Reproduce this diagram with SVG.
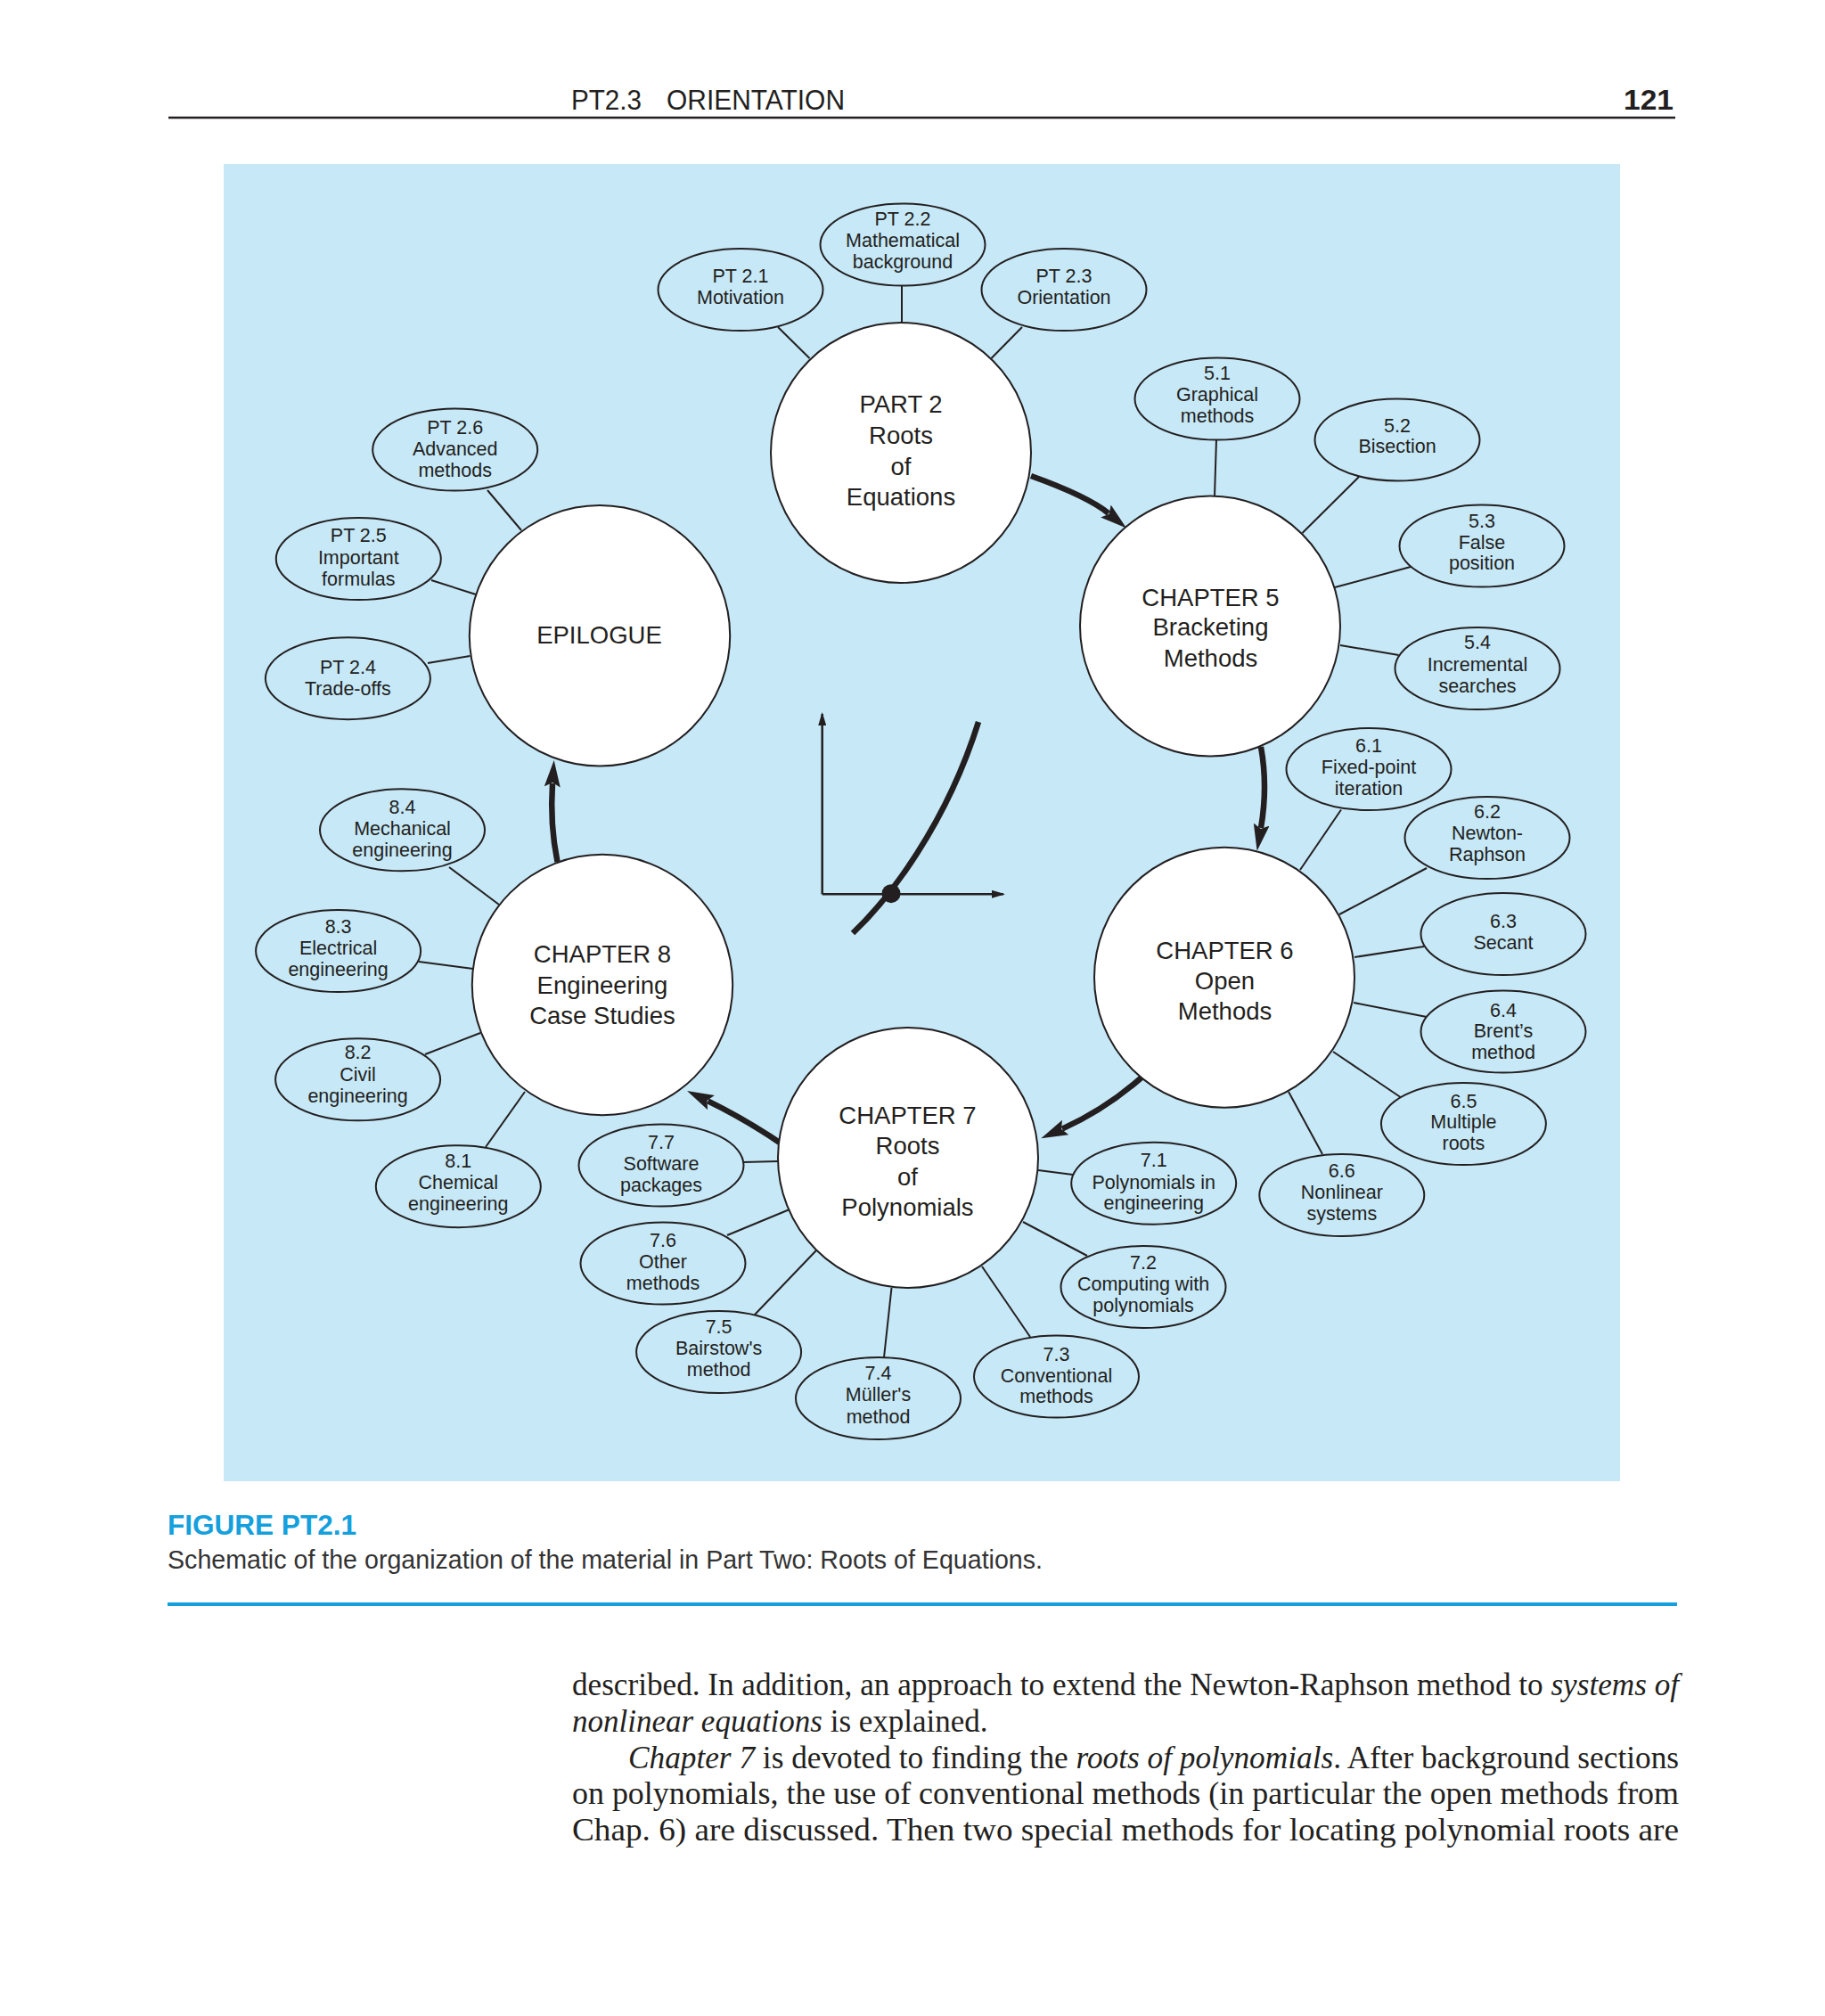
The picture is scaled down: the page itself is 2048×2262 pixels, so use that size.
<svg xmlns="http://www.w3.org/2000/svg" width="2048" height="2262" viewBox="0 0 2048 2262">
<style>
.sans{font-family:"Liberation Sans",Arial,sans-serif;fill:#231f20}
.big{font-size:27.5px;text-anchor:middle}
.sm{font-size:21.5px;text-anchor:middle}
.circ{fill:#ffffff;stroke:#231f20;stroke-width:2}
.ell{fill:#c6e8f7;stroke:#231f20;stroke-width:2}
.con{stroke:#231f20;stroke-width:2;fill:none}
.flow{stroke:#231f20;stroke-width:6.5;fill:none;marker-end:url(#head)}
.ax{stroke:#231f20;stroke-width:2.5;fill:none;marker-end:url(#axhead)}
.body{font-family:"Liberation Serif","Times New Roman",serif;font-size:35px;fill:#231f20}
</style>
<defs>
<marker id="head" markerUnits="userSpaceOnUse" markerWidth="30" markerHeight="18" viewBox="0 0 30 18" refX="4" refY="9" orient="auto">
<path d="M0,0 L30,9 L0,18 L5,9 z" fill="#231f20"/>
</marker>
<marker id="axhead" markerUnits="userSpaceOnUse" markerWidth="15" markerHeight="9" viewBox="0 0 15 9" refX="13" refY="4.5" orient="auto">
<path d="M0,0 L15,4.5 L0,9 z" fill="#231f20"/>
</marker>
</defs>
<rect width="2048" height="2262" fill="#ffffff"/>

<!-- header -->
<text class="sans" x="641" y="123" font-size="32" textLength="79" lengthAdjust="spacingAndGlyphs">PT2.3</text>
<text class="sans" x="748" y="123" font-size="32" textLength="200" lengthAdjust="spacingAndGlyphs">ORIENTATION</text>
<text class="sans" x="1822" y="123" font-size="32" font-weight="bold" textLength="56" lengthAdjust="spacingAndGlyphs">121</text>
<line x1="189" y1="132" x2="1880" y2="132" stroke="#231f20" stroke-width="2.5"/>

<!-- panel -->
<rect x="251" y="184" width="1567" height="1478" fill="#c6e8f7"/>

<!-- connectors -->
<g id="connectors">
<line class="con" x1="873" y1="367" x2="908.5" y2="402"/>
<line class="con" x1="1012" y1="321" x2="1012" y2="362"/>
<line class="con" x1="1147" y1="367" x2="1112.5" y2="402"/>
<line class="con" x1="1365" y1="493" x2="1363" y2="557"/>
<line class="con" x1="1525" y1="535" x2="1461.5" y2="598"/>
<line class="con" x1="1583" y1="636" x2="1498" y2="659"/>
<line class="con" x1="1504" y1="724" x2="1569.5" y2="735"/>
<line class="con" x1="1505" y1="908.5" x2="1459" y2="976"/>
<line class="con" x1="1601" y1="974" x2="1503" y2="1026"/>
<line class="con" x1="1598" y1="1062" x2="1520" y2="1074"/>
<line class="con" x1="1601" y1="1141" x2="1519" y2="1125"/>
<line class="con" x1="1571.5" y1="1231" x2="1496" y2="1180"/>
<line class="con" x1="1484" y1="1295" x2="1446" y2="1225"/>
<line class="con" x1="1165" y1="1313" x2="1204" y2="1318"/>
<line class="con" x1="1148" y1="1371" x2="1220" y2="1409"/>
<line class="con" x1="1102" y1="1421" x2="1156" y2="1500"/>
<line class="con" x1="1000.5" y1="1445" x2="992" y2="1523"/>
<line class="con" x1="847" y1="1475" x2="916" y2="1403"/>
<line class="con" x1="816" y1="1386" x2="886" y2="1357"/>
<line class="con" x1="834" y1="1304" x2="873" y2="1303"/>
<line class="con" x1="504" y1="973" x2="560" y2="1015"/>
<line class="con" x1="470" y1="1079" x2="531" y2="1087"/>
<line class="con" x1="477" y1="1183" x2="539" y2="1159"/>
<line class="con" x1="545" y1="1287" x2="589" y2="1225"/>
<line class="con" x1="547" y1="550" x2="585" y2="595"/>
<line class="con" x1="484" y1="651" x2="534" y2="667"/>
<line class="con" x1="480" y1="744" x2="527.5" y2="736"/>
<path class="flow" d="M1157,534 Q1221,557 1244,576"/>
<path class="flow" d="M1415,838 Q1423,882 1415,929"/>
<path class="flow" d="M1281,1209 Q1240,1245 1192,1266.6"/>
<path class="flow" d="M874.5,1281.7 Q835,1255 794.4,1235.3"/>
<path class="flow" d="M625.5,967 Q617,925 620,879"/>
</g>

<!-- center graph -->
<g id="graph">
<path class="ax" d="M922.7,1003.3 L922.7,801"/>
<path class="ax" d="M922.7,1003.3 L1126,1003.3"/>
<path d="M957,1047 C998,1008 1062,925 1098,810" stroke="#231f20" stroke-width="6.5" fill="none"/>
<circle cx="1000" cy="1002.7" r="10.5" fill="#231f20"/>
</g>

<!-- big nodes -->
<g id="part2">
<circle class="circ" cx="1011" cy="508" r="146"/>
<text class="sans big" x="1011" y="463">PART 2</text>
<text class="sans big" x="1011" y="498">Roots</text>
<text class="sans big" x="1011" y="533">of</text>
<text class="sans big" x="1011" y="567">Equations</text>
</g>
<g id="ch5">
<circle class="circ" cx="1358" cy="702.5" r="146"/>
<text class="sans big" x="1358.5" y="680">CHAPTER 5</text>
<text class="sans big" x="1358.5" y="713">Bracketing</text>
<text class="sans big" x="1358.5" y="748">Methods</text>
</g>
<g id="ch6">
<circle class="circ" cx="1374" cy="1096.7" r="146"/>
<text class="sans big" x="1374.5" y="1076">CHAPTER 6</text>
<text class="sans big" x="1374.5" y="1110">Open</text>
<text class="sans big" x="1374.5" y="1144">Methods</text>
</g>
<g id="ch7">
<circle class="circ" cx="1019" cy="1299" r="146"/>
<text class="sans big" x="1018.5" y="1261">CHAPTER 7</text>
<text class="sans big" x="1018.5" y="1295">Roots</text>
<text class="sans big" x="1018.5" y="1330">of</text>
<text class="sans big" x="1018.5" y="1364">Polynomials</text>
</g>
<g id="ch8">
<circle class="circ" cx="676" cy="1105" r="146.2"/>
<text class="sans big" x="676" y="1080">CHAPTER 8</text>
<text class="sans big" x="676" y="1115">Engineering</text>
<text class="sans big" x="676" y="1148.5">Case Studies</text>
</g>
<g id="epilogue">
<circle class="circ" cx="673" cy="713.3" r="146.2"/>
<text class="sans big" x="672.5" y="721.7">EPILOGUE</text>
</g>

<!-- small nodes -->
<g id="pt21"><ellipse class="ell" cx="831" cy="325" rx="92.5" ry="46"/>
<text class="sans sm" x="831" y="317">PT 2.1</text><text class="sans sm" x="831" y="341">Motivation</text></g>
<g id="pt22"><ellipse class="ell" cx="1013" cy="274.5" rx="92.5" ry="46"/>
<text class="sans sm" x="1013" y="253.3">PT 2.2</text><text class="sans sm" x="1013" y="277.3">Mathematical</text><text class="sans sm" x="1013" y="300.7">background</text></g>
<g id="pt23"><ellipse class="ell" cx="1194" cy="325" rx="92.5" ry="46"/>
<text class="sans sm" x="1194" y="317">PT 2.3</text><text class="sans sm" x="1194" y="341">Orientation</text></g>

<g id="s51"><ellipse class="ell" cx="1366" cy="447.5" rx="92.5" ry="46"/>
<text class="sans sm" x="1366" y="426">5.1</text><text class="sans sm" x="1366" y="450">Graphical</text><text class="sans sm" x="1366" y="474">methods</text></g>
<g id="s52"><ellipse class="ell" cx="1568" cy="493.5" rx="92.5" ry="46"/>
<text class="sans sm" x="1568" y="485">5.2</text><text class="sans sm" x="1568" y="508">Bisection</text></g>
<g id="s53"><ellipse class="ell" cx="1663" cy="612.5" rx="92.5" ry="46"/>
<text class="sans sm" x="1663" y="591.7">5.3</text><text class="sans sm" x="1663" y="616">False</text><text class="sans sm" x="1663" y="639">position</text></g>
<g id="s54"><ellipse class="ell" cx="1658" cy="750" rx="92.5" ry="46"/>
<text class="sans sm" x="1658" y="728">5.4</text><text class="sans sm" x="1658" y="753">Incremental</text><text class="sans sm" x="1658" y="777">searches</text></g>

<g id="s61"><ellipse class="ell" cx="1536" cy="863" rx="92.5" ry="46"/>
<text class="sans sm" x="1536" y="844">6.1</text><text class="sans sm" x="1536" y="868">Fixed-point</text><text class="sans sm" x="1536" y="892">iteration</text></g>
<g id="s62"><ellipse class="ell" cx="1669" cy="940" rx="92.5" ry="46"/>
<text class="sans sm" x="1669" y="918.4">6.2</text><text class="sans sm" x="1669" y="942">Newton-</text><text class="sans sm" x="1669" y="966">Raphson</text></g>
<g id="s63"><ellipse class="ell" cx="1687" cy="1048" rx="92.5" ry="46"/>
<text class="sans sm" x="1687" y="1041">6.3</text><text class="sans sm" x="1687" y="1065">Secant</text></g>
<g id="s64"><ellipse class="ell" cx="1687" cy="1157.6" rx="92.5" ry="46"/>
<text class="sans sm" x="1687" y="1140.6">6.4</text><text class="sans sm" x="1687" y="1164.3">Brent’s</text><text class="sans sm" x="1687" y="1188">method</text></g>
<g id="s65"><ellipse class="ell" cx="1642.4" cy="1261" rx="92.5" ry="46"/>
<text class="sans sm" x="1642.4" y="1242.6">6.5</text><text class="sans sm" x="1642.4" y="1266.4">Multiple</text><text class="sans sm" x="1642.4" y="1290">roots</text></g>
<g id="s66"><ellipse class="ell" cx="1505.8" cy="1341" rx="92.5" ry="46"/>
<text class="sans sm" x="1505.8" y="1321">6.6</text><text class="sans sm" x="1505.8" y="1345.4">Nonlinear</text><text class="sans sm" x="1505.8" y="1369">systems</text></g>

<g id="s71"><ellipse class="ell" cx="1294.7" cy="1327.7" rx="92.5" ry="46"/>
<text class="sans sm" x="1294.7" y="1309">7.1</text><text class="sans sm" x="1294.7" y="1333.6">Polynomials in</text><text class="sans sm" x="1294.7" y="1357.3">engineering</text></g>
<g id="s72"><ellipse class="ell" cx="1283" cy="1444" rx="92.5" ry="46"/>
<text class="sans sm" x="1283" y="1424">7.2</text><text class="sans sm" x="1283" y="1448.3">Computing with</text><text class="sans sm" x="1283" y="1471.7">polynomials</text></g>
<g id="s73"><ellipse class="ell" cx="1185.5" cy="1544.5" rx="92.5" ry="46"/>
<text class="sans sm" x="1185.5" y="1526.7">7.3</text><text class="sans sm" x="1185.5" y="1550.7">Conventional</text><text class="sans sm" x="1185.5" y="1574">methods</text></g>
<g id="s74"><ellipse class="ell" cx="985.5" cy="1569" rx="92.5" ry="46"/>
<text class="sans sm" x="985.5" y="1548.3">7.4</text><text class="sans sm" x="985.5" y="1572.3">Müller's</text><text class="sans sm" x="985.5" y="1596.7">method</text></g>
<g id="s75"><ellipse class="ell" cx="806.6" cy="1517" rx="92.5" ry="46"/>
<text class="sans sm" x="806.6" y="1496">7.5</text><text class="sans sm" x="806.6" y="1520">Bairstow's</text><text class="sans sm" x="806.6" y="1544">method</text></g>
<g id="s76"><ellipse class="ell" cx="744" cy="1417.5" rx="92.5" ry="46"/>
<text class="sans sm" x="744" y="1399.3">7.6</text><text class="sans sm" x="744" y="1423.3">Other</text><text class="sans sm" x="744" y="1446.7">methods</text></g>
<g id="s77"><ellipse class="ell" cx="742" cy="1307.5" rx="92.5" ry="46"/>
<text class="sans sm" x="742" y="1289.3">7.7</text><text class="sans sm" x="742" y="1312.7">Software</text><text class="sans sm" x="742" y="1336.7">packages</text></g>

<g id="s84"><ellipse class="ell" cx="451.5" cy="931.3" rx="92.5" ry="46"/>
<text class="sans sm" x="451.5" y="913.3">8.4</text><text class="sans sm" x="451.5" y="937.3">Mechanical</text><text class="sans sm" x="451.5" y="961">engineering</text></g>
<g id="s83"><ellipse class="ell" cx="379.6" cy="1067" rx="92.5" ry="46"/>
<text class="sans sm" x="379.6" y="1046.7">8.3</text><text class="sans sm" x="379.6" y="1070.7">Electrical</text><text class="sans sm" x="379.6" y="1095">engineering</text></g>
<g id="s82"><ellipse class="ell" cx="401.6" cy="1211.3" rx="92.5" ry="46"/>
<text class="sans sm" x="401.6" y="1188.3">8.2</text><text class="sans sm" x="401.6" y="1212.7">Civil</text><text class="sans sm" x="401.6" y="1236.7">engineering</text></g>
<g id="s81"><ellipse class="ell" cx="514.3" cy="1331.2" rx="92.5" ry="46"/>
<text class="sans sm" x="514.3" y="1310">8.1</text><text class="sans sm" x="514.3" y="1334">Chemical</text><text class="sans sm" x="514.3" y="1357.7">engineering</text></g>

<g id="pt26"><ellipse class="ell" cx="510.7" cy="504.5" rx="92.5" ry="46"/>
<text class="sans sm" x="510.7" y="486.7">PT 2.6</text><text class="sans sm" x="510.7" y="510.7">Advanced</text><text class="sans sm" x="510.7" y="535">methods</text></g>
<g id="pt25"><ellipse class="ell" cx="402.3" cy="627" rx="92.5" ry="46"/>
<text class="sans sm" x="402.3" y="608.3">PT 2.5</text><text class="sans sm" x="402.3" y="632.7">Important</text><text class="sans sm" x="402.3" y="656.7">formulas</text></g>
<g id="pt24"><ellipse class="ell" cx="390.4" cy="761.2" rx="92.5" ry="46"/>
<text class="sans sm" x="390.4" y="756">PT 2.4</text><text class="sans sm" x="390.4" y="780">Trade-offs</text></g>

<!-- caption -->
<text class="sans" x="188" y="1722" font-size="31" font-weight="bold" style="fill:#14a0dc" textLength="212" lengthAdjust="spacingAndGlyphs">FIGURE PT2.1</text>
<text class="sans" x="188" y="1760" font-size="30" style="fill:#333333" textLength="982" lengthAdjust="spacingAndGlyphs">Schematic of the organization of the material in Part Two: Roots of Equations.</text>
<line x1="188" y1="1800" x2="1882" y2="1800" stroke="#14a0dc" stroke-width="4"/>

<!-- body text -->
<text class="body" x="642" y="1902" textLength="1242" lengthAdjust="spacingAndGlyphs">described. In addition, an approach to extend the Newton-Raphson method to <tspan font-style="italic">systems of</tspan></text>
<text class="body" x="642" y="1943"><tspan font-style="italic">nonlinear equations</tspan> is explained.</text>
<text class="body" x="705" y="1984" textLength="1179" lengthAdjust="spacingAndGlyphs"><tspan font-style="italic">Chapter 7</tspan> is devoted to finding the <tspan font-style="italic">roots of polynomials</tspan>. After background sections</text>
<text class="body" x="642" y="2024" textLength="1242" lengthAdjust="spacingAndGlyphs">on polynomials, the use of conventional methods (in particular the open methods from</text>
<text class="body" x="642" y="2065" textLength="1242" lengthAdjust="spacingAndGlyphs">Chap. 6) are discussed. Then two special methods for locating polynomial roots are</text>
</svg>
